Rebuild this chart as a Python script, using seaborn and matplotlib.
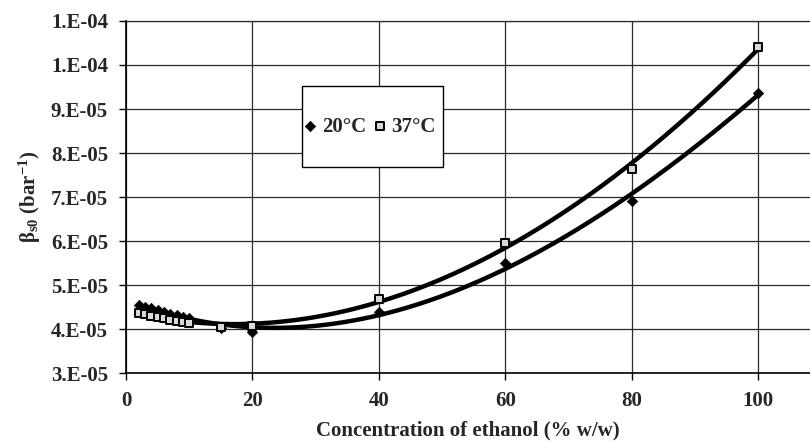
import numpy as np
import pandas as pd
import matplotlib
matplotlib.use("Agg")
import matplotlib.pyplot as plt
from matplotlib.patches import Rectangle
import seaborn as sns

# ---- data ----
conc = [2, 3, 4, 5, 6, 7, 8, 9, 10, 15, 20, 40, 60, 80, 100]
beta_20 = [4.55e-5, 4.51e-5, 4.47e-5, 4.43e-5, 4.39e-5, 4.35e-5, 4.31e-5, 4.27e-5,
           4.24e-5, 4.03e-5, 3.93e-5, 4.38e-5, 5.49e-5, 6.92e-5, 9.37e-5]
beta_37 = [4.36e-5, 4.33e-5, 4.30e-5, 4.27e-5, 4.24e-5, 4.21e-5, 4.18e-5, 4.15e-5,
           4.13e-5, 4.05e-5, 4.07e-5, 4.68e-5, 5.95e-5, 7.63e-5, 10.41e-5]
series = ["20°C", "37°C"]
x_ticks = [0, 20, 40, 60, 80, 100]
y_ticks = [3e-5, 4e-5, 5e-5, 6e-5, 7e-5, 8e-5, 9e-5, 10e-5, 11e-5]
y_tick_labels = ["3.E-05", "4.E-05", "5.E-05", "6.E-05", "7.E-05", "8.E-05",
                 "9.E-05", "1.E-04", "1.E-04"]

sns.set_theme(style="white")
plt.rcParams["font.family"] = ["Liberation Serif", "DejaVu Serif"]
plt.rcParams["font.weight"] = "bold"
plt.rcParams["mathtext.fontset"] = "custom"
plt.rcParams["mathtext.rm"] = "Liberation Serif:bold"
plt.rcParams["mathtext.it"] = "Liberation Serif:bold"
plt.rcParams["mathtext.bf"] = "Liberation Serif:bold"

FS = 15

df = pd.DataFrame({
    "conc": conc * 2,
    "beta": beta_20 + beta_37,
    "T": [series[0]] * len(conc) + [series[1]] * len(conc),
})

# polynomial trend lines (like spreadsheet trendlines)
xs = np.linspace(min(conc), max(conc), 200)
fit_rows = []
for name, ys in zip(series, [beta_20, beta_37]):
    c = np.polyfit(conc, ys, 3)
    fit_rows.append(pd.DataFrame({"conc": xs, "beta": np.polyval(c, xs), "T": name}))
fit = pd.concat(fit_rows)

fig = plt.figure(figsize=(8.1, 4.43), dpi=100)
ax = fig.add_axes([0.1556, 0.158, 0.8444, 0.7946])

sns.lineplot(data=fit, x="conc", y="beta", hue="T", palette=["black", "black"],
             linewidth=3.2, legend=False, ax=ax, zorder=3)
sns.scatterplot(data=df[df["T"] == series[0]], x="conc", y="beta", marker="D",
                color="black", s=28, edgecolor="black", linewidth=0.5, ax=ax,
                zorder=4, label=series[0])
sns.scatterplot(data=df[df["T"] == series[1]], x="conc", y="beta", marker="s",
                color="#d8d8d8", s=34, edgecolor="black", linewidth=1.4, ax=ax,
                zorder=4, label=series[1])

ax.set_xlim(0, 108.2)
ax.set_ylim(3e-5, 11e-5)
ax.set_xticks(x_ticks)
ax.set_xticklabels([str(t) for t in x_ticks], fontsize=FS, fontweight="bold")
ax.set_yticks(y_ticks)
ax.set_yticklabels(y_tick_labels, fontsize=FS, fontweight="bold")
ax.grid(True, color="#2a2a2a", linewidth=0.9)
ax.set_axisbelow(True)
ax.spines["right"].set_visible(False)
ax.spines["top"].set_color("#2a2a2a")
ax.spines["top"].set_linewidth(0.9)
for s in ["left", "bottom"]:
    ax.spines[s].set_color("black")
    ax.spines[s].set_linewidth(1.2)
ax.tick_params(axis="both", which="both", direction="out", length=5, width=1,
               color="black", left=True, bottom=True, pad=8)

ax.set_xlabel("Concentration of ethanol (% w/w)", fontsize=FS, fontweight="bold",
              labelpad=7)
ax.set_ylabel(r"β$_\mathrm{s0}$ (bar$^\mathrm{-1}$)", fontsize=FS, fontweight="bold",
              labelpad=6)

# legend frame (drawn as a box in axes coordinates) and entries
ax.add_patch(Rectangle((0.2573, 0.585), 0.2062, 0.230, transform=ax.transAxes,
                       facecolor="white", edgecolor="black", linewidth=1.0,
                       zorder=5))
leg = ax.legend(loc="center left", bbox_to_anchor=(0.262, 0.70), ncol=2,
                frameon=False, borderpad=0, borderaxespad=0, handlelength=0.5,
                handletextpad=0.3, columnspacing=0.4,
                prop={"family": "Liberation Serif", "weight": "bold", "size": FS})
leg.set_zorder(6)

fig.savefig("out.png", dpi=100)
